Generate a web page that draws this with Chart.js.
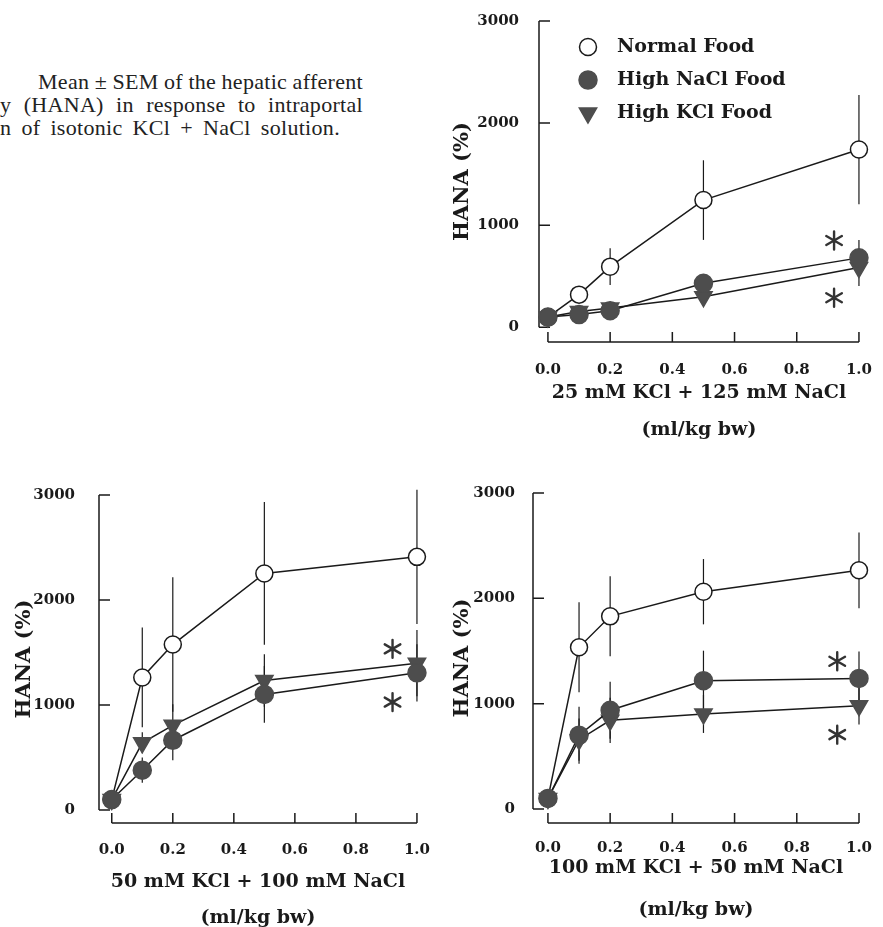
<!DOCTYPE html>
<html>
<head>
<meta charset="utf-8">
<script src="https://cdn.jsdelivr.net/npm/chart.js@4.4.0/dist/chart.umd.min.js"></script>
<style>
  body { margin: 0; width: 883px; height: 927px; overflow: hidden; background: #fff; position: relative; }
  canvas { position: absolute; }
  .cap { position: absolute; font-family: "Liberation Serif", serif; font-size: 22px; line-height: 23px; color: #222; white-space: nowrap; letter-spacing: 0.3px; display: flex; justify-content: space-between; }
</style>
</head>
<body>
<div class="cap" style="left:38px; top:70px; width:325px;"><span>Mean</span><span>±</span><span>SEM</span><span>of</span><span>the</span><span>hepatic</span><span>afferent</span></div>
<div class="cap" style="left:0; top:93px; width:363px;"><span>y</span><span>(HANA)</span><span>in</span><span>response</span><span>to</span><span>intraportal</span></div>
<div class="cap" style="left:0; top:116px; width:340px;"><span>n</span><span>of</span><span>isotonic</span><span>KCl</span><span>+</span><span>NaCl</span><span>solution.</span></div>

<canvas id="chartA" width="443" height="450" style="left:440px; top:0;"></canvas>
<canvas id="chartB" width="440" height="470" style="left:0; top:470px;"></canvas>
<canvas id="chartC" width="443" height="470" style="left:440px; top:470px;"></canvas>

<script>
const doses = [0, 0.1, 0.2, 0.5, 1.0];
const xTicks = [0, 0.2, 0.4, 0.6, 0.8, 1.0];
const yTicks = [0, 1000, 2000, 3000];
const seriesNames = ['Normal Food', 'High NaCl Food', 'High KCl Food'];
const yTitle = 'HANA (%)';
const unitLabel = '(ml/kg bw)';

// 25 mM KCl + 125 mM NaCl
const aNormal = [100, 320, 594, 1246, 1741];
const aNormalSem = [0, 40, 180, 390, 535];
const aNaCl = [100, 125, 163, 431, 680];
const aNaClSem = [0, 20, 30, 40, 175];
const aKCl = [100, 155, 190, 300, 585];
const aKClSem = [0, 20, 30, 40, 180];
const aStars = [[0.92, 850], [0.92, 290]];

// 50 mM KCl + 100 mM NaCl
const bNormal = [100, 1263, 1576, 2253, 2411];
const bNormalSem = [0, 475, 640, 680, 640];
const bNaCl = [100, 380, 665, 1101, 1307];
const bNaClSem = [0, 120, 190, 270, 272];
const bKCl = [100, 640, 807, 1234, 1399];
const bKClSem = [0, 100, 200, 250, 316];
const bStars = [[0.92, 1535], [0.92, 1028]];

// 100 mM KCl + 50 mM NaCl
const cNormal = [100, 1535, 1829, 2063, 2266];
const cNormalSem = [0, 427, 380, 310, 360];
const cNaCl = [100, 700, 937, 1218, 1240];
const cNaClSem = [0, 270, 270, 285, 256];
const cKCl = [100, 658, 842, 902, 981];
const cKClSem = [0, 200, 215, 180, 180];
const cStars = [[0.93, 1402], [0.93, 706]];

const FONT = '"DejaVu Serif", serif';
const INK = '#1a1a1a';
const DARK = '#4d4d4d';

// index: 0 normal, 1 NaCl, 2 KCl; drawOrder: NaCl on top, normal at the bottom
const styles = [
    { pointStyle: 'circle', rotation: 0, fill: '#fff', stroke: INK, radius: 8.5, drawOrder: 3 },
    { pointStyle: 'circle', rotation: 0, fill: DARK, stroke: DARK, radius: 9, drawOrder: 1 },
    { pointStyle: 'triangle', rotation: 180, fill: DARK, stroke: DARK, radius: 10, drawOrder: 2 }
];

const makeSeries = (values, sem, k) => ({
    label: seriesNames[k],
    data: doses.map((x, i) => ({ x, y: values[i] })),
    sem,
    order: styles[k].drawOrder,
    borderColor: INK,
    borderWidth: 1.5,
    pointStyle: styles[k].pointStyle,
    pointRotation: styles[k].rotation,
    pointRadius: styles[k].radius,
    pointBackgroundColor: styles[k].fill,
    pointBorderColor: styles[k].stroke,
    pointBorderWidth: 1.5,
    tension: 0,
    clip: false
});

// axis lines with inward ticks, kept apart like in the original
const axesPlugin = {
    id: 'axes',
    beforeDatasetsDraw(chart) {
        const { ctx, chartArea, scales: { x, y } } = chart;
        ctx.save();
        ctx.strokeStyle = INK;
        ctx.lineWidth = 1.5;
        ctx.beginPath();
        ctx.moveTo(chartArea.left, y.getPixelForValue(yTicks[0]));
        ctx.lineTo(chartArea.left, y.getPixelForValue(yTicks[yTicks.length - 1]));
        yTicks.forEach(v => {
            const py = y.getPixelForValue(v);
            ctx.moveTo(chartArea.left, py);
            ctx.lineTo(chartArea.left + 11, py);
        });
        ctx.moveTo(x.getPixelForValue(xTicks[0]), chartArea.bottom);
        ctx.lineTo(x.getPixelForValue(xTicks[xTicks.length - 1]), chartArea.bottom);
        xTicks.forEach(v => {
            const px = x.getPixelForValue(v);
            ctx.moveTo(px, chartArea.bottom);
            ctx.lineTo(px, chartArea.bottom - 10);
        });
        ctx.stroke();
        ctx.restore();
    }
};

// mean ± SEM bars
const errorBarsPlugin = {
    id: 'errorBars',
    beforeDatasetsDraw(chart) {
        const { ctx, scales: { x, y } } = chart;
        ctx.save();
        ctx.strokeStyle = INK;
        ctx.lineWidth = 1.2;
        chart.data.datasets.forEach(ds => {
            ds.data.forEach((p, i) => {
                const s = ds.sem[i];
                if (!s) return;
                const px = x.getPixelForValue(p.x);
                ctx.beginPath();
                ctx.moveTo(px, y.getPixelForValue(p.y - s));
                ctx.lineTo(px, y.getPixelForValue(p.y + s));
                ctx.stroke();
            });
        });
        ctx.restore();
    }
};

const starsPlugin = (stars) => ({
    id: 'stars',
    afterDatasetsDraw(chart) {
        const { ctx, scales: { x, y } } = chart;
        ctx.save();
        ctx.strokeStyle = '#333';
        ctx.lineWidth = 2.4;
        ctx.lineCap = 'round';
        stars.forEach(([sx, sy]) => {
            const cx = x.getPixelForValue(sx);
            const cy = y.getPixelForValue(sy);
            const r = 9;
            ctx.beginPath();
            [90, 30, 150].forEach(a => {
                const rad = a * Math.PI / 180;
                ctx.moveTo(cx - r * Math.cos(rad), cy - r * Math.sin(rad));
                ctx.lineTo(cx + r * Math.cos(rad), cy + r * Math.sin(rad));
            });
            ctx.stroke();
        });
        ctx.restore();
    }
});

// legend inside the first panel
const legendPlugin = {
    id: 'innerLegend',
    afterDraw(chart) {
        const { ctx } = chart;
        ctx.save();
        ctx.font = 'bold 19px ' + FONT;
        ctx.textBaseline = 'middle';
        chart.data.datasets.forEach((ds, k) => {
            const ly = 47 + k * 33;
            ctx.fillStyle = styles[k].fill;
            ctx.strokeStyle = styles[k].stroke;
            Chart.helpers.drawPoint(ctx, {
                pointStyle: styles[k].pointStyle,
                rotation: styles[k].rotation,
                radius: styles[k].radius,
                borderWidth: 1.5
            }, 148, ly);
            ctx.fillStyle = INK;
            ctx.fillText(ds.label, 177, ly);
        });
        ctx.restore();
    }
};

const makeChart = (id, p) => {
    const ctx = document.getElementById(id).getContext('2d');
    const plugins = [axesPlugin, errorBarsPlugin, starsPlugin(p.stars)];
    if (p.legend) plugins.push(legendPlugin);
    return new Chart(ctx, {
        type: 'line',
        data: {
            datasets: [
                makeSeries(p.normal, p.normalSem, 0),
                makeSeries(p.nacl, p.naclSem, 1),
                makeSeries(p.kcl, p.kclSem, 2)
            ]
        },
        options: {
            responsive: false,
            animation: false,
            layout: { padding: p.padding },
            plugins: { legend: { display: false }, tooltip: { enabled: false } },
            scales: {
                x: {
                    type: 'linear',
                    min: p.xMin,
                    max: 1.0,
                    afterBuildTicks: s => { s.ticks = xTicks.map(v => ({ value: v })); },
                    afterFit: s => { s.height = p.xHeight; },
                    grid: { display: false },
                    border: { display: false },
                    ticks: {
                        color: INK, padding: p.xPad, maxRotation: 0,
                        font: { family: FONT, size: 15, weight: 'bold' },
                        callback: v => v.toFixed(1)
                    },
                    title: {
                        display: true,
                        text: [p.xTitle, unitLabel],
                        color: INK,
                        font: { family: FONT, size: 19, weight: 'bold', lineHeight: p.titleLh },
                        padding: { top: 0, bottom: p.titlePad }
                    }
                },
                y: {
                    min: p.yMin,
                    max: 3000,
                    afterBuildTicks: s => { s.ticks = yTicks.map(v => ({ value: v })); },
                    afterFit: s => { s.width = p.yWidth; },
                    grid: { display: false },
                    border: { display: false },
                    ticks: {
                        color: INK, padding: p.yPad,
                        font: { family: FONT, size: 15, weight: 'bold' },
                        callback: v => String(v)
                    },
                    title: {
                        display: true,
                        text: yTitle,
                        color: INK,
                        font: { family: FONT, size: 21, weight: 'bold' },
                        padding: { top: p.yTitlePad, bottom: 0 }
                    }
                }
            }
        },
        plugins
    });
};

makeChart('chartA', {
    normal: aNormal, normalSem: aNormalSem, nacl: aNaCl, naclSem: aNaClSem,
    kcl: aKCl, kclSem: aKClSem, stars: aStars, legend: true,
    xTitle: '25 mM KCl + 125 mM NaCl',
    xMin: -0.0287, yMin: -144,
    padding: { left: 0, right: 21, top: 15, bottom: 0 },
    xHeight: 108, yWidth: 99, xPad: 11, yPad: 12, yTitlePad: 10,
    titleLh: 37 / 19, titlePad: 1.5
});

makeChart('chartB', {
    normal: bNormal, normalSem: bNormalSem, nacl: bNaCl, naclSem: bNaClSem,
    kcl: bKCl, kclSem: bKClSem, stars: bStars,
    xTitle: '50 mM KCl + 100 mM NaCl',
    xMin: -0.0418, yMin: -123,
    padding: { left: 0, right: 17, top: 24, bottom: 0 },
    xHeight: 117, yWidth: 99, xPad: 10, yPad: 16, yTitlePad: 12,
    titleLh: 36 / 19, titlePad: 4
});

makeChart('chartC', {
    normal: cNormal, normalSem: cNormalSem, nacl: cNaCl, naclSem: cNaClSem,
    kcl: cKCl, kclSem: cKClSem, stars: cStars,
    xTitle: '100 mM KCl + 50 mM NaCl',
    xMin: -0.048, yMin: -133,
    padding: { left: 0, right: 24, top: 23, bottom: 0 },
    xHeight: 117, yWidth: 93, xPad: 8, yPad: 10, yTitlePad: 10,
    titleLh: 42 / 19, titlePad: 9
});
</script>
</body>
</html>
